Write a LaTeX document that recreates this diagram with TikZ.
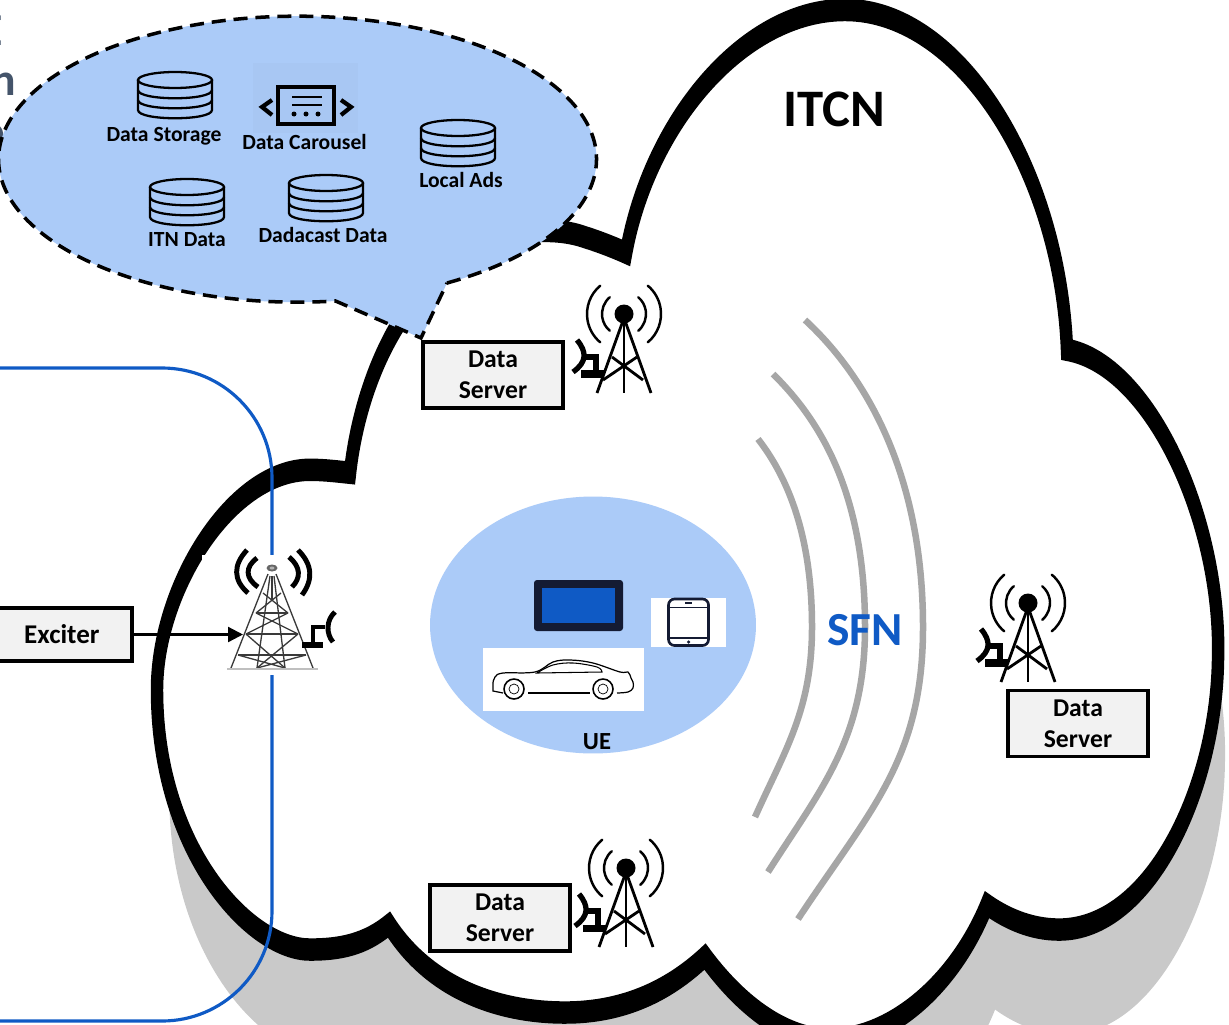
\documentclass[tikz,border=0pt]{standalone}
\usepackage{fontspec}
\setmainfont{Carlito}
\usetikzlibrary{arrows.meta,shapes.geometric}
\definecolor{bub}{HTML}{ABCBF8}
\definecolor{shadowgray}{HTML}{C9C9C9}
\definecolor{wavegray}{HTML}{A6A6A6}
\definecolor{linkblue}{HTML}{0F5AC5}
\definecolor{boxgray}{HTML}{F2F2F2}
\definecolor{navy}{HTML}{141B33}
\definecolor{slate}{HTML}{44546A}
\definecolor{lattice}{HTML}{3A3A3A}
\tikzset{
  serverbox/.style={draw=black,line width=2pt,fill=boxgray,minimum width=2.8cm,minimum height=1.32cm,inner sep=0pt,align=center,font=\fontsize{14.6}{17.8}\selectfont\bfseries},
  dblabel/.style={inner sep=0pt,font=\fontsize{12.3}{14}\selectfont\bfseries},
  wave/.style={draw=wavegray,line width=3.7pt},
  radio/.style={line width=1.4pt,line cap=round},
  smalltower/.pic={
    \fill[black] (0,0) circle[radius=.19cm];
    \draw[line width=1.6pt,line join=miter] (-27,79) -- (0,4) -- (27,79);
    \draw[line width=1.6pt] (0,4) -- (0,79);
    \draw[line width=1.6pt] (-12,43) -- (19,66);
    \draw[line width=1.6pt] (13,43) -- (-21,66);
    \draw[radio] ({-37*cos(50)},{-37*sin(50)}) arc[start angle=130,end angle=230,radius=.74cm];
    \draw[radio] ({-22*cos(50)},{-22*sin(50)}) arc[start angle=130,end angle=230,radius=.44cm];
    \draw[radio] ({37*cos(50)},{37*sin(50)}) arc[start angle=-50,end angle=50,radius=.74cm];
    \draw[radio] ({22*cos(50)},{22*sin(50)}) arc[start angle=-50,end angle=50,radius=.44cm];
    \draw[line width=3pt] (-47,26) .. controls (-37,38) and (-37,48) .. (-51,58);
    \draw[line width=3.2pt] (-40,43) -- (-28,43) -- (-28,60);
    \draw[line width=4pt] (-43,60) -- (-20,60);
  },
  dbicon/.pic={
    \draw[line width=1.3pt] (-37,-15) -- (-37,15) .. controls (-37,26) and (37,26) .. (37,15) -- (37,-15);
    \draw[line width=1.3pt] (0,-15) ellipse[x radius=.74cm,y radius=.16cm];
    \draw[line width=1.3pt] (-37,-5) .. controls (-37,6) and (37,6) .. (37,-5);
    \draw[line width=1.3pt] (-37,5) .. controls (-37,16) and (37,16) .. (37,5);
  }
}
\def\cloudpath{
 (626,253) .. controls (650,120) and (745,10) .. (845,10)
 .. controls (960,10) and (1060,170) .. (1067,350)
 .. controls (1150,365) and (1222,520) .. (1218,660)
 .. controls (1216,790) and (1150,930) .. (1059,930)
 .. controls (1030,930) and (1005,918) .. (987,905)
 .. controls (955,985) and (890,1040) .. (830,1040)
 .. controls (785,1040) and (740,1005) .. (705,957)
 .. controls (670,990) and (625,1013) .. (565,1013)
 .. controls (500,1013) and (430,990) .. (389,925)
 .. controls (365,945) and (340,950) .. (310,950)
 .. controls (250,950) and (157,850) .. (157,690)
 .. controls (157,590) and (230,470) .. (310,470)
 .. controls (325,470) and (340,472) .. (350,473)
 .. controls (358,400) and (390,300) .. (470,250)
 .. controls (500,232) and (550,225) .. (584,237)
 .. controls (600,242) and (615,248) .. (626,253) -- cycle}
\begin{document}
\begin{tikzpicture}[x=0.02cm,y=-0.02cm]
\useasboundingbox (0,0) rectangle (1229,1024);
% clipped slide text at the left edge
\node[anchor=base east,inner sep=0pt,text=slate,font=\fontsize{26}{30}\selectfont\bfseries] (fragE) at (3,46) {E};
\node[anchor=base east,inner sep=0pt,text=slate,font=\fontsize{26}{30}\selectfont\bfseries] (fragN) at (16,95) {n};
\node[anchor=base east,inner sep=0pt,text=slate,font=\fontsize{26}{30}\selectfont\bfseries] (fragO) at (5,146) {o};
% cloud
\begin{scope}[transform canvas={yscale=1.8},y=-0.0111111cm]
  \fill[shadowgray,shift={(13,105)},xscale=.995] \cloudpath;
  \draw[black,fill=white,line width=7.1pt,line join=miter] \cloudpath;
\end{scope}
% SFN waves
\draw[wave] (805,320) .. controls (870,380) and (923,480) .. (923,627) .. controls (923,760) and (870,810) .. (798,919);
\draw[wave] (773,374) .. controls (825,425) and (865,500) .. (865,627) .. controls (865,740) and (820,790) .. (768,872);
\draw[wave] (758,439) .. controls (790,480) and (812,540) .. (812,627) .. controls (812,710) and (785,750) .. (755,817);
\node[text=linkblue,inner sep=0pt,font=\fontsize{27}{30}\selectfont\bfseries] (sfn) at (865,630) {SFN};
\node[inner sep=0pt,font=\fontsize{30}{34}\selectfont\bfseries] (itcn) at (834,109) {ITCN};
% blue region
\draw[linkblue,line width=1.8pt,rounded corners=2.2cm] (-30,368) -- (272,368) -- (272,1021) -- (-30,1021);
% speech bubble
\draw[fill=bub,line width=2pt,dash pattern=on 8pt off 4.5pt] (447,283) arc[start angle=-60,end angle=277.3,x radius=5.98cm,y radius=2.86cm] -- (421,338) -- cycle;
\fill[bub!98!black] (253,63) rectangle (358,133);
\pic at (175,95) {dbicon};
\pic at (187,202) {dbicon};
\pic at (326,198) {dbicon};
\pic at (458,143) {dbicon};
\node[dblabel] (lstore) at (164,136) {Data Storage};
\node[dblabel] (lcar) at (304.5,142) {Data Carousel};
\node[dblabel] (lads) at (461,180) {Local Ads};
\node[dblabel] (litn) at (187,240) {ITN Data};
\node[dblabel] (ldada) at (323,235) {Dadacast Data};
% carousel icon
\draw[line width=2pt] (278,87) rectangle (334,124);
\draw[line width=1.6pt] (292,97) -- (322,97);
\draw[line width=1.6pt] (292,105) -- (322,105);
\fill (294,114) circle[radius=.05cm] (306,114) circle[radius=.05cm] (318,114) circle[radius=.05cm];
\draw[line width=2.4pt] (272,100) -- (262,107) -- (272,115);
\draw[line width=2.4pt] (341,100) -- (351,107) -- (341,115);
% UE
\fill[bub] (593,625) ellipse[x radius=3.26cm,y radius=2.57cm];
\node[inner sep=0pt,font=\fontsize{14}{16}\selectfont\bfseries] (ue) at (597,741.5) {UE};
\fill[navy,rounded corners=.06cm] (534,580) rectangle (623,631);
\fill[linkblue] (542,588) rectangle (615,623);
\fill[white] (651,598) rectangle (726,647);
\draw[navy,line width=1.5pt,rounded corners=.12cm] (668.5,599) rectangle (708.5,645.5);
\draw[navy,line width=1.1pt] (668.5,607.5) -- (708.5,607.5) (668.5,638) -- (708.5,638);
\draw[navy,line width=1.1pt] (685,603) -- (692,603);
\fill[navy] (688.5,642) circle[radius=.035cm];
\fill[white] (483,648) rectangle (644,711);
\draw[line width=.7pt] plot[smooth,tension=.6] coordinates{(493,683) (495,677) (503,673) (535,672) (553,662) (570,660) (593,663) (620,672) (628,672) (631,678) (633,682) (633,688) (628,692) (617,693)};
\draw[line width=.7pt] (493,683) -- (493,691) -- (503,693);
\draw[line width=.8pt] (528,693) -- (590,693);
\draw[line width=.6pt] plot[smooth,tension=.6] coordinates{(537,673) (553,665) (573,663) (597,667) (602,672)} -- cycle;
\draw[line width=.9pt] (514,689) circle[radius=.2cm] (603,689) circle[radius=.2cm];
\draw[line width=.4pt] (519,689) arc[start angle=0,end angle=180,radius=.1cm] (509,689) arc[start angle=180,end angle=360,radius=.1cm];
\draw[line width=.4pt] (608,689) arc[start angle=0,end angle=180,radius=.1cm] (598,689) arc[start angle=180,end angle=360,radius=.1cm];
% data servers
\node[serverbox] (ds1) at (493,375) {\raisebox{-1.6pt}{Data}\\\raisebox{-1.6pt}{Server}};
\node[serverbox] (ds2) at (1078,723.5) {\raisebox{-1.6pt}{Data}\\\raisebox{-1.6pt}{Server}};
\node[serverbox] (ds3) at (500,918) {\raisebox{-1.6pt}{Data}\\\raisebox{-1.6pt}{Server}};
\pic at (624,314) {smalltower};
\pic at (1028,603) {smalltower};
\pic at (626,868) {smalltower};
% big tower
\fill[white] (202,555) rectangle (345,675);
\draw[line width=2.8pt] (247,550) .. controls (233,565) and (233,580) .. (248,593);
\draw[line width=2.8pt] (257,558) .. controls (245,567) and (245,578) .. (258,587);
\draw[line width=2.8pt] (298,550) .. controls (313,565) and (313,580) .. (302,595);
\draw[line width=2.8pt] (289,557) .. controls (301,567) and (301,578) .. (292,587);
\begin{scope}[lattice,line width=.75pt]
 \draw (268,574) -- (231,668) (276,574) -- (313,668);
 \draw (270,576) -- (257,668) (274,576) -- (285,668);
 \draw (256,613) -- (288,613) (246,634) -- (298,634) (238,655) -- (306,655);
 \draw (256,613) -- (298,634) (288,613) -- (246,634);
 \draw (246,634) -- (285,668) (298,634) -- (257,668);
 \draw (263,593) -- (288,613) (281,593) -- (256,613);
 \draw (238,655) -- (285,668) (306,655) -- (257,668);
 \draw[line width=1.6pt] (272,576) -- (272,600);
 \draw[black!25,line width=1pt] (227,669) -- (318,669);
 \fill[black!60] (272,568) ellipse[x radius=.11cm,y radius=.07cm];
 \fill[black!30] (272,568) ellipse[x radius=.05cm,y radius=.03cm];
\end{scope}
\draw[line width=2.8pt] (335,612) .. controls (326,620) and (326,634) .. (333,642);
\draw[line width=2.6pt] (325,627) -- (313,627) -- (313,645);
\draw[line width=3.2pt] (302,645) -- (323,645);
% exciter
\node[draw=black,line width=1.9pt,fill=boxgray,minimum width=2.84cm,minimum height=1.06cm,inner sep=0pt,font=\fontsize{15.4}{17}\selectfont\bfseries] (exciter) at (61,634.5) {\hspace{1pt}\raisebox{-1pt}{Exciter}};
\coordinate (towerin) at (243,634.5);
\draw[line width=1.3pt,-{Triangle[length=8.5pt,width=8.5pt]}] (exciter.east) -- (towerin);
\end{tikzpicture}
\end{document}
